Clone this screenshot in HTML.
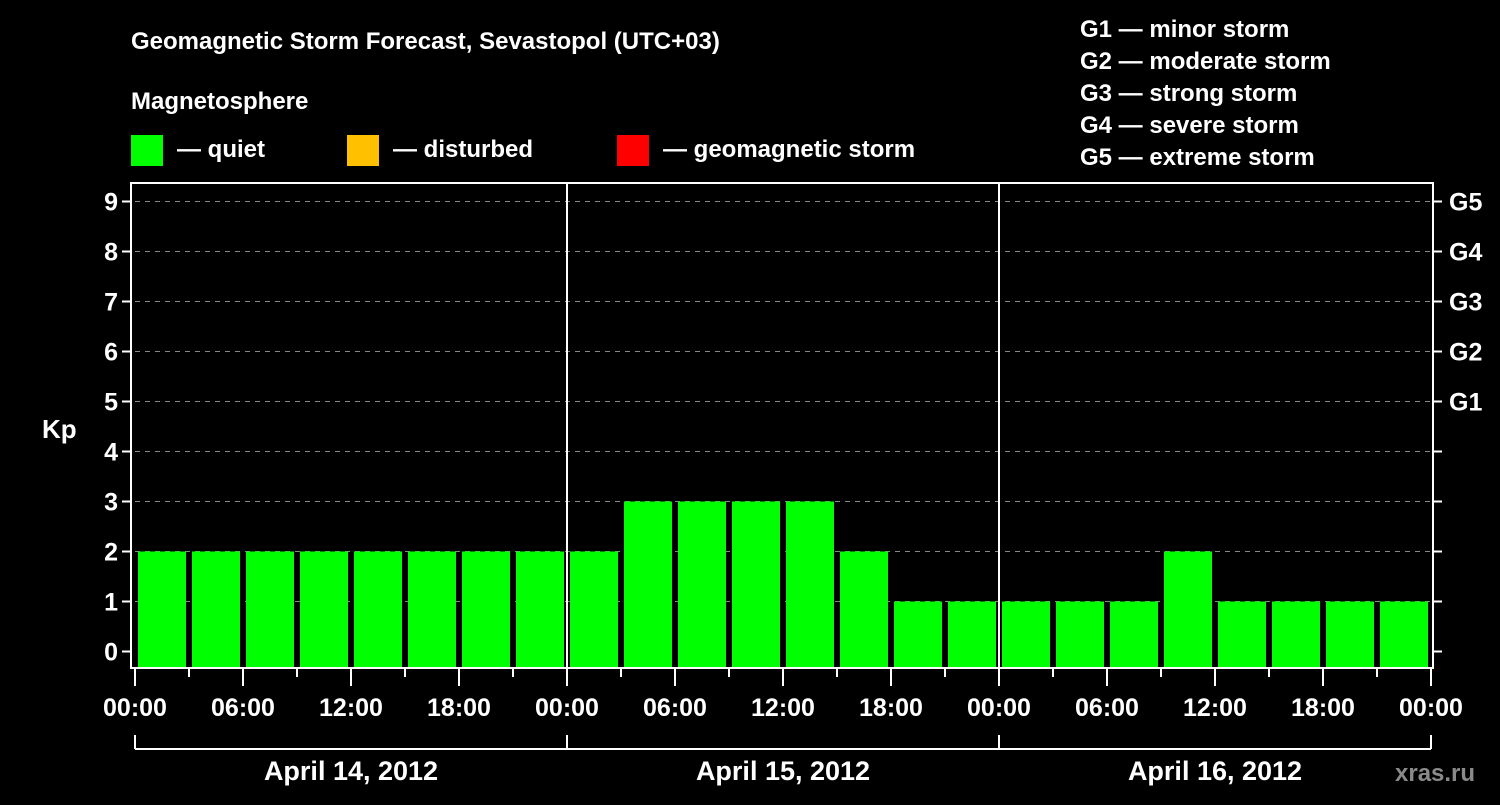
<!DOCTYPE html>
<html><head><meta charset="utf-8"><style>
body{margin:0;background:#000;width:1500px;height:800px;overflow:hidden}
svg text{font-family:"Liberation Sans",Arial,sans-serif;font-weight:bold;fill:#fff}
</style></head><body>
<svg id="c" width="1500" height="800" xmlns="http://www.w3.org/2000/svg">
<rect width="1500" height="800" fill="#000"/>
<text x="131" y="49" font-size="24">Geomagnetic Storm Forecast, Sevastopol (UTC+03)</text>
<text x="131" y="109" font-size="24">Magnetosphere</text>
<g><rect x="131" y="135" width="32" height="31" fill="#00ff00"/><text x="177" y="157" font-size="24">— quiet</text></g>
<g><rect x="347" y="135" width="32" height="31" fill="#ffc000"/><text x="393" y="157" font-size="24">— disturbed</text></g>
<g><rect x="617" y="135" width="32" height="31" fill="#ff0000"/><text x="663" y="157" font-size="24">— geomagnetic storm</text></g>
<g font-size="24">
<text x="1080" y="37">G1 — minor storm</text>
<text x="1080" y="69">G2 — moderate storm</text>
<text x="1080" y="101">G3 — strong storm</text>
<text x="1080" y="133">G4 — severe storm</text>
<text x="1080" y="165">G5 — extreme storm</text>
</g>
<text x="42" y="438" font-size="26">Kp</text>
<text x="1395" y="781" font-size="24" fill="#888" style="fill:#8a8a8a">xras.ru</text>
<g id="plot"></g>
</svg>
<script>
const kpValues=[2,2,2,2,2,2,2,2, 2,3,3,3,3,2,1,1, 1,1,1,2,1,1,1,1];
const dayLabels=["April 14, 2012","April 15, 2012","April 16, 2012"];
const yTicks=[0,1,2,3,4,5,6,7,8,9];
const gLabels=["G1","G2","G3","G4","G5"];
const hourLabels=["00:00","06:00","12:00","18:00"];
const NS="http://www.w3.org/2000/svg";
const L=135,R=1431,T=183,B=668;
const slot=(R-L)/kpValues.length;
const x=i=>L+i*slot;
const y=v=>651.5-v*50;
const g=document.getElementById('plot');
function mk(t,a){const e=document.createElementNS(NS,t);for(const k in a)e.setAttribute(k,a[k]);g.appendChild(e);return e;}
yTicks.forEach(v=>{
 if(v>0){const l=mk('line',{x1:L,x2:R,y1:y(v),y2:y(v),stroke:'#888','stroke-dasharray':'5,5','stroke-width':1});
 
 }
 const tk=mk('line',{x1:122,x2:131,y1:y(v),y2:y(v),stroke:'#fff','stroke-width':2});
 
 
 const tr=mk('line',{x1:1433,x2:1442,y1:y(v),y2:y(v),stroke:'#fff','stroke-width':2});
 
 
 const t=mk('text',{x:118,y:y(v)+9,'font-size':25,'text-anchor':'end'});t.textContent=v;
 
 
});
gLabels.forEach((s,i)=>{const t=mk('text',{x:1449,y:y(5+i)+9,'font-size':25});t.textContent=s;
 
 });
kpValues.forEach((v,i)=>{
 const c=v>=5?'#ff0000':(v>=4?'#ffc000':'#00ff00');
 const r=mk('rect',{x:x(i)+3,y:y(v),width:slot-6,height:B-y(v),fill:c});
 
 
});
const f=mk('rect',{x:131,y:T,width:1302,height:B-T,fill:'none',stroke:'#fff','stroke-width':2});


for(let d=1;d<dayLabels.length;d++){const l=mk('line',{x1:x(d*8),x2:x(d*8),y1:T,y2:B,stroke:'#fff','stroke-width':2});
 
 }
for(let i=0;i<=kpValues.length;i++){
 const long=i%2==0;
 const l=mk('line',{x1:x(i),x2:x(i),y1:B,y2:long?686:677,stroke:'#fff','stroke-width':2});
 
 
 if(long){const t=mk('text',{x:x(i),y:716,'font-size':25,'text-anchor':'middle'});t.textContent=hourLabels[(i/2)%4];
 
 }
}
const br=mk('line',{x1:L,x2:R,y1:749,y2:749,stroke:'#fff','stroke-width':2});


for(let d=0;d<=dayLabels.length;d++){const l=mk('line',{x1:x(d*8),x2:x(d*8),y1:735,y2:749,stroke:'#fff','stroke-width':2});
 
 }
dayLabels.forEach((s,d)=>{const t=mk('text',{x:x(d*8+4),y:780,'font-size':27,'text-anchor':'middle'});t.textContent=s;
 
 });
</script>
</body></html>
